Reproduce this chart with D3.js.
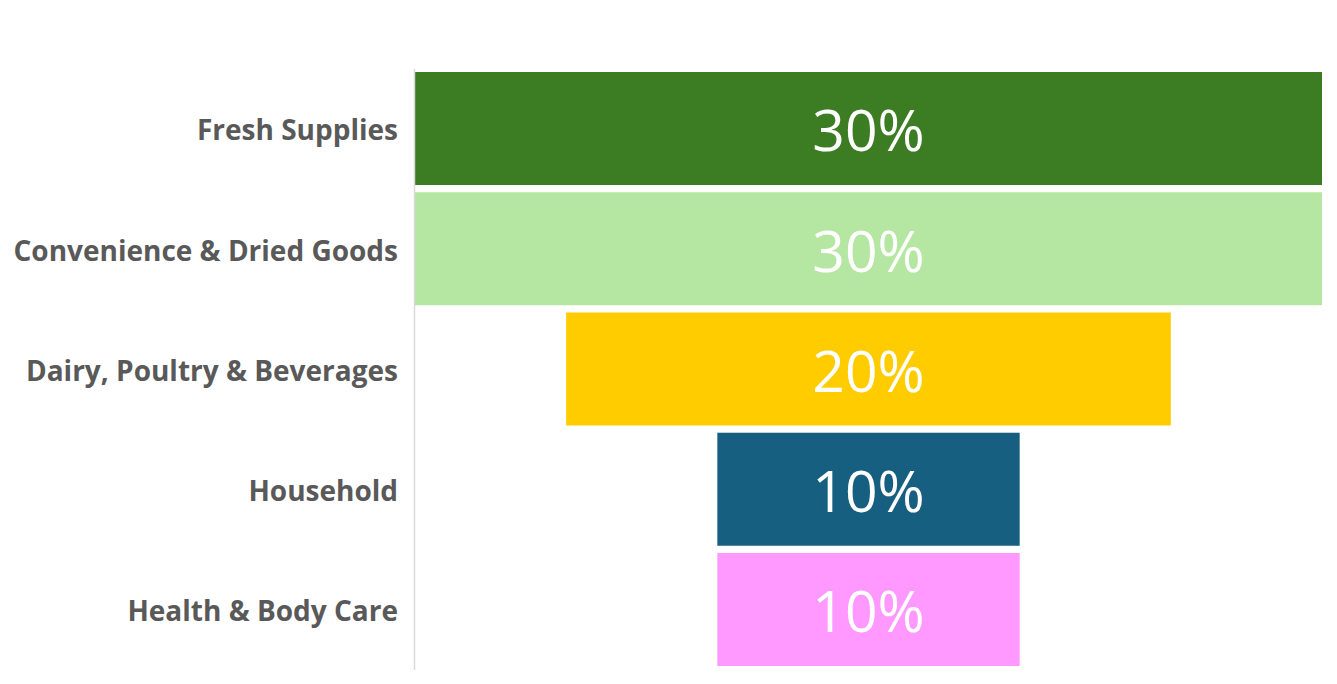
<!DOCTYPE html>
<html>
<head>
<meta charset="utf-8">
<script src="https://cdn.jsdelivr.net/npm/d3@7/dist/d3.min.js"></script>
<style>
  html, body { margin: 0; padding: 0; background: #ffffff; }
  svg { display: block; }
</style>
</head>
<body>
<svg id="chart" width="1337" height="684"></svg>
<script>
const categories = ["Fresh Supplies", "Convenience & Dried Goods", "Dairy, Poultry & Beverages", "Household", "Health & Body Care"];
const values = [30, 30, 20, 10, 10];
const valueLabels = ["30%", "30%", "20%", "10%", "10%"];
const colors = ["#3c7d23", "#b5e6a2", "#ffcc00", "#175f80", "#ff99ff"];

const svg = d3.select("#chart");
const plotLeft = 415, plotRight = 1322;
const center = (plotLeft + plotRight) / 2;

const y = d3.scaleBand()
  .domain(categories)
  .range([68.4, 669.6])
  .paddingInner(0.06)
  .paddingOuter(0.03);

const w = d3.scaleLinear()
  .domain([0, d3.max(values)])
  .range([0, plotRight - plotLeft]);

const data = categories.map((c, i) => ({ c, v: values[i], label: valueLabels[i], color: colors[i] }));

// bars
svg.append("g").selectAll("rect")
  .data(data)
  .join("rect")
  .attr("x", d => center - w(d.v) / 2)
  .attr("y", d => y(d.c))
  .attr("width", d => w(d.v))
  .attr("height", y.bandwidth())
  .attr("fill", d => d.color);

// value labels
svg.append("g").selectAll("text")
  .data(data)
  .join("text")
  .attr("x", center)
  .attr("y", d => y(d.c) + y.bandwidth() / 2)
  .attr("dy", "0.4em")
  .attr("text-anchor", "middle")
  .attr("font-family", "'Open Sans', 'Noto Sans', sans-serif")
  .attr("font-size", 57)
  .attr("fill", "#ffffff")
  .text(d => d.label);

// category axis
const axis = d3.axisLeft(y).tickSize(0).tickPadding(16);
const g = svg.append("g")
  .attr("transform", `translate(${plotLeft - 1},0)`)
  .call(axis);
g.select(".domain").attr("stroke", "#d9d9d9").attr("stroke-width", 1.5);
g.selectAll(".tick text")
  .attr("font-family", "'Open Sans', 'Noto Sans', sans-serif")
  .attr("font-weight", "bold")
  .attr("font-size", 28)
  .attr("fill", "#595959")
  .attr("dy", "0.42em");
</script>
</body>
</html>
